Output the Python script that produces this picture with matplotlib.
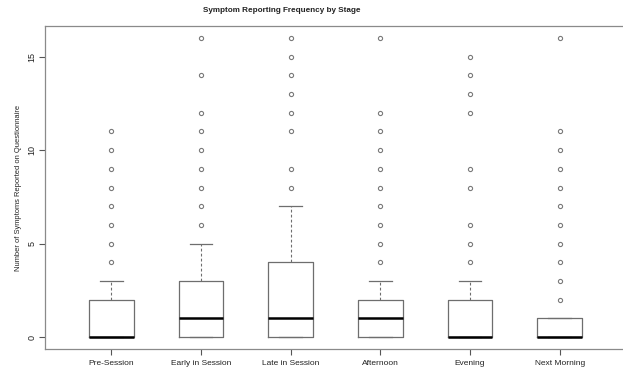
import matplotlib
matplotlib.use("Agg")
import matplotlib.pyplot as plt

plt.rcParams['font.family'] = ['Liberation Sans', 'DejaVu Sans']

# stages and the box statistics
stages = ['Pre-Session', 'Early in Session', 'Late in Session',
          'Afternoon', 'Evening', 'Next Morning']
q1 = [0, 0, 0, 0, 0, 0]
medians = [0, 1, 1, 1, 0, 0]
q3 = [2, 3, 4, 2, 2, 1]
whisk_lo = [0, 0, 0, 0, 0, 0]
whisk_hi = [3, 5, 7, 3, 3, 1]
outliers = [
    [11, 10, 9, 8, 7, 6, 5, 4],
    [16, 14, 12, 11, 10, 9, 8, 7, 6],
    [16, 15, 14, 13, 12, 11, 9, 8],
    [16, 12, 11, 10, 9, 8, 7, 6, 5, 4],
    [15, 14, 13, 12, 9, 8, 6, 5, 4],
    [16, 11, 10, 9, 8, 7, 6, 5, 4, 3, 2],
]

stats = []
for i, name in enumerate(stages):
    stats.append({'label': name, 'q1': q1[i], 'med': medians[i], 'q3': q3[i],
                  'whislo': whisk_lo[i], 'whishi': whisk_hi[i],
                  'fliers': outliers[i]})

fig = plt.figure(figsize=(6.23, 3.69), dpi=100)
ax = fig.add_axes([45 / 623, 1 - 349 / 369, 581 / 623, 323 / 369])

grey = '#6e6e6e'
ax.bxp(stats, widths=0.5, showfliers=True, patch_artist=False,
       boxprops=dict(color=grey, linewidth=0.9),
       whiskerprops=dict(color=grey, linewidth=0.8, linestyle=(0, (2.5, 2))),
       capprops=dict(color=grey, linewidth=0.9),
       capwidths=0.25,
       medianprops=dict(color='black', linewidth=1.8),
       flierprops=dict(marker='o', markersize=3.0, markerfacecolor='none',
                       markeredgecolor='#7a7a7a', markeredgewidth=0.8))

ax.set_xlim(0.26, 6.74)
ax.set_ylim(-0.64, 16.64)
ax.set_yticks([0, 5, 10, 15])
ax.set_yticklabels(['0', '5', '10', '15'], rotation=90, va='center')
ax.set_xticks(range(1, 7))
ax.set_xticklabels(stages)
ax.tick_params(axis='both', direction='out', length=4, width=0.8,
               colors='#555555', labelcolor='#222222', labelsize=6)
ax.tick_params(axis='y', pad=2, labelsize=6.5)
ax.tick_params(axis='x', pad=4)
for s in ax.spines.values():
    s.set_color('#8a8a8a')
    s.set_linewidth(0.9)

ax.set_ylabel('Number of Symptoms Reported on Questionnaire', fontsize=5.4,
              color='#222222', labelpad=4)
fig.text(282 / 623, 1 - 11 / 369, 'Symptom Reporting Frequency by Stage',
         ha='center', va='center', fontsize=5.9, fontweight='bold',
         color='#222222')

fig.savefig('out.png', dpi=100)
